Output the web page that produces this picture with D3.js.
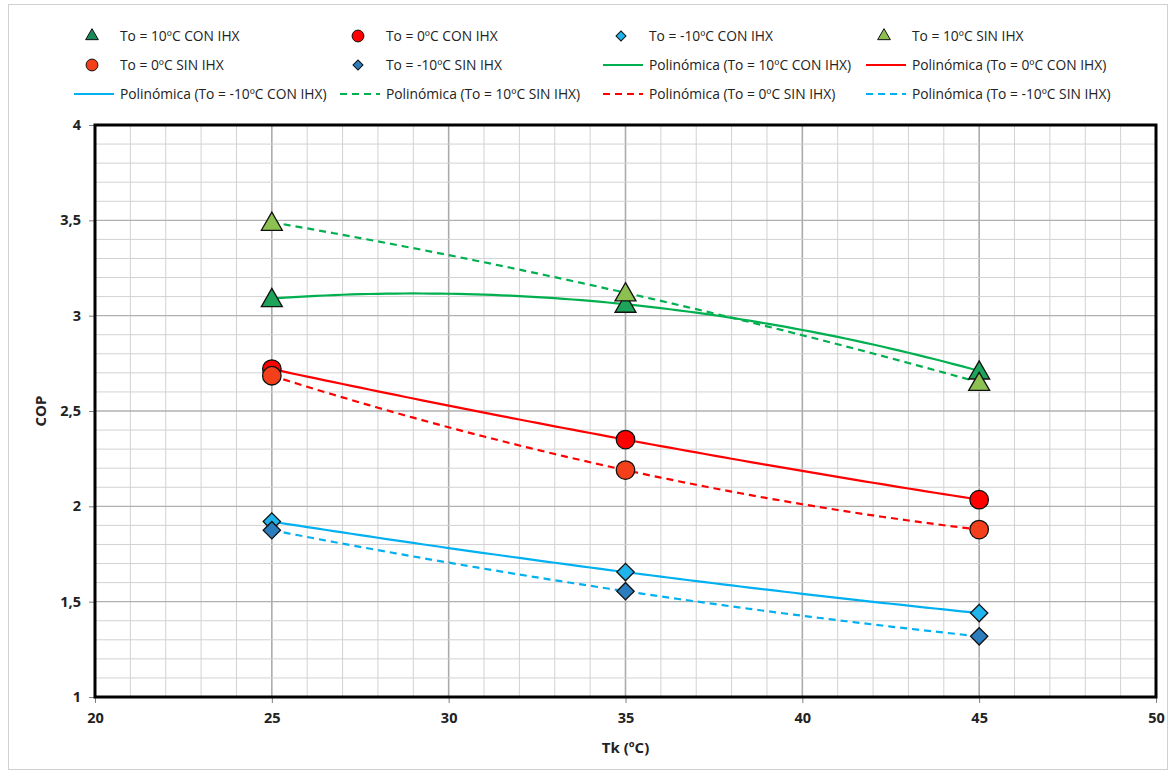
<!DOCTYPE html>
<html><head><meta charset="utf-8">
<script src="https://cdn.jsdelivr.net/npm/d3@7"></script>
<style>body{margin:0;background:#fff;} svg{display:block;font-family:'Open Sans',sans-serif;}</style>
</head><body>
<svg id="c" width="1170" height="772"></svg>
<script>
const tk = [25, 35, 45];
const cop10Con = [3.09, 3.06, 2.71];
const cop0Con = [2.72, 2.35, 2.035];
const copM10Con = [1.92, 1.655, 1.44];
const cop10Sin = [3.49, 3.12, 2.65];
const cop0Sin = [2.685, 2.19, 1.878];
const copM10Sin = [1.875, 1.555, 1.318];
const xTicks = [20, 25, 30, 35, 40, 45, 50];
const yTicks = [1, 1.5, 2, 2.5, 3, 3.5, 4];
const yTickLabels = ["1", "1,5", "2", "2,5", "3", "3,5", "4"];
const seriesNames = ["To = 10ºC CON IHX","To = 0ºC CON IHX","To = -10ºC CON IHX","To = 10ºC SIN IHX","To = 0ºC SIN IHX","To = -10ºC SIN IHX"];

const series = [
  {name: seriesNames[0], y: cop10Con, shape: "tri", fill: "#1ea35a", line: "#00b050", dash: null},
  {name: seriesNames[1], y: cop0Con, shape: "circ", fill: "#ff0000", line: "#ff0000", dash: null},
  {name: seriesNames[2], y: copM10Con, shape: "dia", fill: "#1fb4ec", line: "#00b0f0", dash: null},
  {name: seriesNames[3], y: cop10Sin, shape: "tri", fill: "#8cc152", line: "#00b050", dash: "7,5"},
  {name: seriesNames[4], y: cop0Sin, shape: "circ", fill: "#f4401a", line: "#ff0000", dash: "7,5"},
  {name: seriesNames[5], y: copM10Sin, shape: "dia", fill: "#2c7dbd", line: "#00b0f0", dash: "7,5"}
];

const svg = d3.select("#c");
svg.append("rect").attr("x",8.5).attr("y",4.5).attr("width",1159).attr("height",765).attr("fill","none").attr("stroke","#d0d0d0");

const L = 95, R = 1156, T = 125, B = 697;
const x = d3.scaleLinear().domain([20, 50]).range([L, R]);
const y = d3.scaleLinear().domain([1, 4]).range([B, T]);

// grid
const g = svg.append("g");
g.selectAll("line.vm").data(d3.range(21, 50)).join("line")
  .attr("x1", d => x(d)).attr("x2", d => x(d)).attr("y1", T).attr("y2", B)
  .attr("stroke", d => d % 5 === 0 ? "#ababab" : "#d2d2d2").attr("stroke-width", d => d % 5 === 0 ? 1.6 : 1);
g.selectAll("line.hm").data(d3.range(11, 40)).join("line")
  .attr("y1", d => y(d / 10)).attr("y2", d => y(d / 10)).attr("x1", L).attr("x2", R)
  .attr("stroke", d => d % 5 === 0 ? "#b0b0b0" : "#d2d2d2")
  .attr("stroke-width", d => d % 5 === 0 ? 1.4 : 1);

// axes
const yAxis = d3.axisLeft(y).tickValues(yTicks).tickFormat((d, i) => yTickLabels[i]).tickSize(6).tickPadding(8);
const xAxis = d3.axisBottom(x).tickValues(xTicks).tickFormat(d3.format("d")).tickSize(6).tickPadding(10);
const ya = svg.append("g").attr("transform", `translate(${L},0)`).call(yAxis);
const xa = svg.append("g").attr("transform", `translate(0,${B})`).call(xAxis);
[ya, xa].forEach(a => {
  a.select(".domain").remove();
  a.selectAll("line").attr("stroke", "#7f7f7f");
  a.selectAll("text").attr("font-size", 14.5).attr("font-weight", "bold").attr("fill", "#222")
    .attr("font-family", "'Open Sans', sans-serif");
});
svg.append("rect").attr("x", L).attr("y", T).attr("width", R - L).attr("height", B - T)
  .attr("fill", "none").attr("stroke", "#000").attr("stroke-width", 3);

svg.append("text").attr("transform", `translate(46,${(T + B) / 2}) rotate(-90)`).attr("text-anchor", "middle")
  .attr("font-size", 15).attr("font-weight", "bold").attr("fill", "#222").text("COP");
svg.append("text").attr("x", (L + R) / 2).attr("y", 753).attr("text-anchor", "middle")
  .attr("font-size", 15).attr("font-weight", "bold").attr("fill", "#222").text("Tk (ºC)");

// polynomial (order 2) trendline fitted to each series
function fit2(xs, ys) {
  return v => ys.reduce((s, yi, i) => {
    let t = yi;
    xs.forEach((xj, j) => { if (j !== i) t *= (v - xj) / (xs[i] - xj); });
    return s + t;
  }, 0);
}
const curveG = svg.append("g");
series.forEach(s => {
  const f = fit2(tk, s.y);
  const xs = d3.range(tk[0], tk[2] + 0.001, 0.25);
  curveG.append("path").datum(xs)
    .attr("d", d3.line().x(v => x(v)).y(v => y(f(v))))
    .attr("fill", "none").attr("stroke", s.line).attr("stroke-width", 2.2)
    .attr("stroke-dasharray", s.dash);
});

function shapePath(shape, size) {
  if (shape === "tri") return d3.symbol(d3.symbolTriangle, size)();
  if (shape === "circ") return d3.symbol(d3.symbolCircle, size)();
  return d3.symbol(d3.symbolSquare, size)();
}
const markG = svg.append("g");
series.forEach(s => {
  const size = s.shape === "circ" ? 270 : s.shape === "tri" ? 190 : 150;
  markG.selectAll(null).data(tk.map((t, i) => [t, s.y[i]])).join("path")
    .attr("d", shapePath(s.shape, size))
    .attr("transform", d => `translate(${x(d[0])},${y(d[1]) + (s.shape === "tri" ? 2 : 0)})` + (s.shape === "dia" ? " rotate(45)" : ""))
    .attr("fill", s.fill).attr("stroke", "#111").attr("stroke-width", 1.3);
});

// legend
const legendItems = [
  {type: "m", s: 0}, {type: "m", s: 1}, {type: "m", s: 2}, {type: "m", s: 3},
  {type: "m", s: 4}, {type: "m", s: 5}, {type: "l", s: 0}, {type: "l", s: 1},
  {type: "l", s: 2}, {type: "l", s: 3}, {type: "l", s: 4}, {type: "l", s: 5}
];
const colX = [92, 358, 621, 884];
const rowY = [36, 65, 94];
const lg = svg.append("g").attr("font-size", 13.8).attr("fill", "#222");
legendItems.forEach((it, i) => {
  const cx = colX[i % 4], cy = rowY[Math.floor(i / 4)];
  const s = series[it.s];
  if (it.type === "m") {
    const size = s.shape === "circ" ? 110 : s.shape === "tri" ? 70 : 50;
    lg.append("path")
      .attr("d", shapePath(s.shape, size))
      .attr("transform", `translate(${cx},${cy})` + (s.shape === "dia" ? " rotate(45)" : ""))
      .attr("fill", s.shape === "tri" && it.s === 0 ? "#178a58" : s.fill).attr("stroke", "#111").attr("stroke-width", 1);
    lg.append("text").attr("x", cx + 28).attr("y", cy + 5).text(s.name);
  } else {
    lg.append("line").attr("x1", cx - 18).attr("x2", cx + 22).attr("y1", cy).attr("y2", cy)
      .attr("stroke", s.line).attr("stroke-width", 2.2).attr("stroke-dasharray", s.dash);
    lg.append("text").attr("x", cx + 28).attr("y", cy + 5).text(`Polinómica (${s.name})`);
  }
});
</script>
</body></html>
